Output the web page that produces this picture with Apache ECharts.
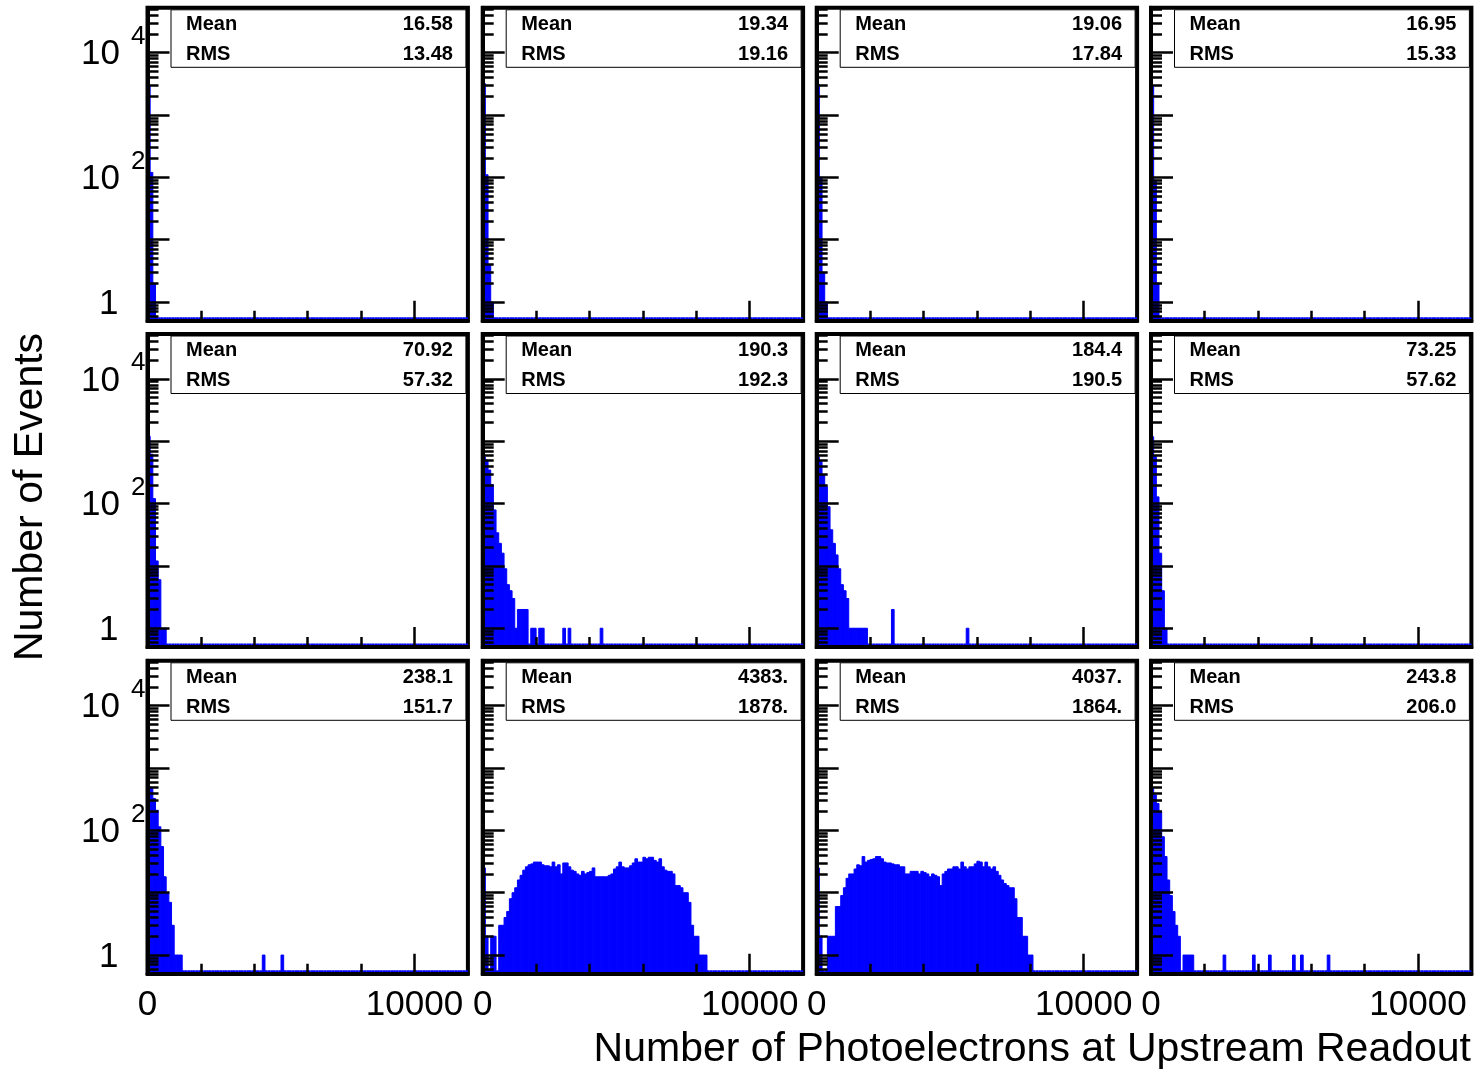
<!DOCTYPE html>
<html>
<head>
<meta charset="utf-8">
<script src="https://cdn.jsdelivr.net/npm/echarts@6/dist/echarts.min.js"></script>
<style>
html,body{margin:0;padding:0;background:#fff;}
#chart{width:1479px;height:1075px;}
</style>
</head>
<body>
<div id="chart"></div>
<script>
// ---------------- data ----------------
const BIN_WIDTH = 100;          // photoelectrons per bin
const X_MAX = 12000;
const Y_MIN = 0.5;
const Y_MAX = 52500;

const xMajorTicks = [0, 10000];
const xMinorTicks = [2000, 4000, 6000, 8000];
const xTickLabels = [0, 10000];
const yMajorTicks = [1, 10, 100, 1000, 10000];
const yMinorTicks = [0.6, 0.7, 0.8, 0.9, 2, 3, 4, 5, 6, 7, 8, 9,
  20, 30, 40, 50, 60, 70, 80, 90, 200, 300, 400, 500, 600, 700, 800, 900,
  2000, 3000, 4000, 5000, 6000, 7000, 8000, 9000, 20000, 30000, 40000, 50000];
const yTickLabels = [1, 100, 10000];

const meanValues = ['16.58', '19.34', '19.06', '16.95', '70.92', '190.3', '184.4', '73.25', '238.1', '4383.', '4037.', '243.8'];
const rmsValues  = ['13.48', '19.16', '17.84', '15.33', '57.32', '192.3', '190.5', '57.62', '151.7', '1878.', '1864.', '206.0'];

// bin counts starting at bin 0 (0-100 p.e.)
const hist1 = [2950, 120, 2];
const hist2 = [3200, 110, 4, 1];
const hist3 = [3100, 100, 3, 1];
const hist4 = [2900, 90, 2];
const hist5 = [1200, 620, 120, 12, 6, 1, 1];
const hist6 = [560, 500, 345, 200, 79, 34, 23, 16, 9, 5, 4, 3, 1, 2, 2, 2, 2];
const hist7 = [560, 470, 287, 186, 89, 38, 23, 15, 9, 5, 4, 3, 1, 1, 1, 1, 1, 1, 1];
const hist8 = [1180, 565, 128, 16, 4, 1];
const hist9 = [500, 470, 325, 210, 114, 55, 18, 10, 7, 3, 1, 1, 1];
const hist10 = [25, 2, 0, 2, 2, 0, 3, 3, 4, 5, 8, 10, 12, 16, 19, 23, 26, 28, 29, 31,
  31, 31, 28, 27, 27, 26, 31, 26, 28, 20, 30, 30, 26, 23, 22, 20, 19, 22, 20, 21,
  22, 25, 18, 18, 18, 18, 18, 19, 20, 24, 26, 31, 26, 25, 25, 27, 30, 35, 31, 31,
  37, 35, 37, 37, 33, 31, 35, 26, 23, 22, 22, 20, 13, 13, 12, 10, 10, 7, 3, 2,
  2, 1, 1, 1];
const hist11 = [25, 2, 0, 0, 2, 2, 2, 6, 6, 9, 12, 17, 20, 20, 24, 28, 27, 38, 31, 33,
  34, 35, 38, 38, 35, 31, 30, 30, 29, 28, 28, 26, 26, 20, 20, 22, 22, 22, 20, 22,
  21, 20, 18, 20, 19, 18, 13, 20, 22, 24, 24, 26, 26, 24, 31, 26, 24, 26, 26, 29,
  32, 31, 26, 31, 26, 24, 26, 22, 19, 16, 14, 13, 12, 12, 8, 4, 4, 2, 2, 1,
  1];
const hist12 = [470, 370, 270, 200, 79, 38, 16, 9, 5, 3, 2, 0, 1, 1, 1, 1];
// isolated bins further out: [bin index, count]
const spikes6 = [[18, 1], [19, 1], [21, 1], [22, 1], [30, 1], [32, 1], [44, 1]];
const spikes7 = [[28, 2], [56, 1]];
const spikes9 = [[43, 1], [50, 1]];
const spikes12 = [[27, 1], [38, 1], [44, 1], [53, 1], [56, 1], [66, 1]];

// ---------------- layout ----------------
const colLeft = [147.5, 482.7, 816.7, 1151];
const rowTop = [7.8, 334, 660.8];
const PLOT_W = 320.4;
const PLOT_H = 313;
const BLUE = '#0000ff';
const FONT = '"Liberation Sans", Arial, Helvetica, sans-serif';

const histograms = [
  [hist1, []], [hist2, []], [hist3, []], [hist4, []],
  [hist5, []], [hist6, spikes6], [hist7, spikes7], [hist8, []],
  [hist9, spikes9], [hist10, []], [hist11, []], [hist12, spikes12]
];

const NBINS = X_MAX / BIN_WIDTH;
const Y_LOG_MIN = Math.log10(Y_MIN);
const Y_LOG_MAX = Math.log10(Y_MAX);
const lg = v => Math.log10(v);

function buildData(head, spikes) {
  const counts = head.slice();
  spikes.forEach(([b, c]) => { while (counts.length <= b) counts.push(0); counts[b] = c; });
  while (counts.length < NBINS) counts.push(0);
  return counts.map((c, k) => [k * BIN_WIDTH, (k + 1) * BIN_WIDTH, c > 0 ? lg(c) : Y_LOG_MIN, c]);
}

function renderBin(params, api) {
  const x0 = api.value(0), x1 = api.value(1), ly = api.value(2), cnt = api.value(3);
  const pBL = api.coord([x0, Y_LOG_MIN]);
  const pBR = api.coord([x1, Y_LOG_MIN]);
  const w = pBR[0] - pBL[0];
  if (cnt > 0) {
    const pT = api.coord([x0, ly]);
    return {
      type: 'rect',
      shape: { x: pBL[0], y: pT[1], width: w, height: pBL[1] - pT[1] },
      style: { fill: BLUE, stroke: BLUE, lineWidth: 1 }
    };
  }
  return {
    type: 'rect',
    shape: { x: pBL[0], y: pBL[1] - 3.5, width: w, height: 3.5 },
    style: { fill: BLUE }
  };
}

function yLabel(v) {
  const e = Math.round(v);
  if (e === 0) return '{one|1}';
  return '{b|10}{e|' + e + '}';
}

const grids = [], xAxes = [], yAxes = [], series = [], graphics = [];

for (let i = 0; i < 12; i++) {
  const r = Math.floor(i / 4), c = i % 4;
  const L = colLeft[c], T = rowTop[r];
  grids.push({
    left: L, top: T, width: PLOT_W, height: PLOT_H,
    show: true, borderColor: '#000', borderWidth: 4, backgroundColor: 'transparent',
    containLabel: false, outerBoundsMode: 'none'
  });
  xAxes.push({
    gridIndex: i, type: 'value', min: 0, max: X_MAX, position: 'bottom', z: 5,
    axisLine: { show: true, onZero: false, lineStyle: { color: '#000', width: 4 } },
    axisTick: { show: true, inside: true, length: 20, customValues: xMajorTicks, lineStyle: { color: '#000', width: 2.5 } },
    axisLabel: {
      show: r === 2, customValues: xTickLabels, showMinLabel: true, showMaxLabel: true,
      color: '#000', fontSize: 35, fontFamily: FONT, margin: 14, formatter: v => String(v)
    },
    splitLine: { show: false }
  });
  xAxes.push({
    gridIndex: i, type: 'value', min: 0, max: X_MAX, position: 'bottom', z: 5,
    axisLine: { show: false, onZero: false },
    axisTick: { show: true, inside: true, length: 10, customValues: xMinorTicks, lineStyle: { color: '#000', width: 2.5 } },
    axisLabel: { show: false },
    splitLine: { show: false }
  });
  yAxes.push({
    gridIndex: i, type: 'value', min: Y_LOG_MIN, max: Y_LOG_MAX, position: 'left', z: 5,
    axisLine: { show: true, onZero: false, lineStyle: { color: '#000', width: 4 } },
    axisTick: { show: true, inside: true, length: 22, customValues: yMajorTicks.map(lg), lineStyle: { color: '#000', width: 2.5 } },
    axisLabel: {
      show: c === 0, customValues: yTickLabels.map(lg), showMinLabel: true, showMaxLabel: true,
      margin: 2, color: '#000', fontFamily: FONT, formatter: yLabel,
      rich: {
        one: { fontSize: 35, fontFamily: FONT, color: '#000', padding: [4, 27, 0, 0] },
        b: { fontSize: 35, fontFamily: FONT, color: '#000', padding: [4, 0, 0, 0] },
        e: { fontSize: 26, fontFamily: FONT, color: '#000', padding: [0, 0, 32, 11] }
      }
    },
    splitLine: { show: false }
  });
  yAxes.push({
    gridIndex: i, type: 'value', min: Y_LOG_MIN, max: Y_LOG_MAX, position: 'left', z: 5,
    axisLine: { show: false, onZero: false },
    axisTick: { show: true, inside: true, length: 11, customValues: yMinorTicks.map(lg), lineStyle: { color: '#000', width: 2.5 } },
    axisLabel: { show: false },
    splitLine: { show: false }
  });
  series.push({
    type: 'custom', xAxisIndex: 2 * i, yAxisIndex: 2 * i,
    renderItem: renderBin, encode: { x: [0, 1], y: 2 },
    data: buildData(histograms[i][0], histograms[i][1]),
    clip: true, z: 2, silent: true, animation: false
  });

  // statistics box
  const R = L + PLOT_W;
  graphics.push({
    type: 'rect', z: 10, silent: true,
    shape: { x: L + 23.5, y: T + 2, width: PLOT_W - 25.5, height: 57.5 },
    style: { fill: '#fff', stroke: '#000', lineWidth: 1 }
  });
  graphics.push({
    type: 'text', z: 11, silent: true, x: L + 38.5, y: T + 16.5,
    style: { text: 'Mean', font: 'bold 20px ' + FONT, fill: '#000', textAlign: 'left', textVerticalAlign: 'middle', align: 'left', verticalAlign: 'middle' }
  });
  graphics.push({
    type: 'text', z: 11, silent: true, x: L + 38.5, y: T + 46.5,
    style: { text: 'RMS', font: 'bold 20px ' + FONT, fill: '#000', textAlign: 'left', textVerticalAlign: 'middle', align: 'left', verticalAlign: 'middle' }
  });
  graphics.push({
    type: 'text', z: 11, silent: true, x: R - 15, y: T + 16.5,
    style: { text: meanValues[i], font: 'bold 20px ' + FONT, fill: '#000', textAlign: 'right', textVerticalAlign: 'middle', align: 'right', verticalAlign: 'middle' }
  });
  graphics.push({
    type: 'text', z: 11, silent: true, x: R - 15, y: T + 46.5,
    style: { text: rmsValues[i], font: 'bold 20px ' + FONT, fill: '#000', textAlign: 'right', textVerticalAlign: 'middle', align: 'right', verticalAlign: 'middle' }
  });
}

graphics.push({
  type: 'text', silent: true, x: 1471, y: 1050,
  style: { text: 'Number of Photoelectrons at Upstream Readout', font: '41px ' + FONT, fill: '#000',
    textAlign: 'right', textVerticalAlign: 'middle', align: 'right', verticalAlign: 'middle' }
});
graphics.push({
  type: 'text', silent: true, x: 31, y: 497, rotation: Math.PI / 2,
  style: { text: 'Number of Events', font: '41px ' + FONT, fill: '#000',
    textAlign: 'center', textVerticalAlign: 'middle', align: 'center', verticalAlign: 'middle' }
});

const chart = echarts.init(document.getElementById('chart'), null, { renderer: 'canvas' });
chart.setOption({
  animation: false,
  backgroundColor: '#fff',
  grid: grids,
  xAxis: xAxes,
  yAxis: yAxes,
  series: series,
  graphic: { elements: graphics }
});
</script>
</body>
</html>
